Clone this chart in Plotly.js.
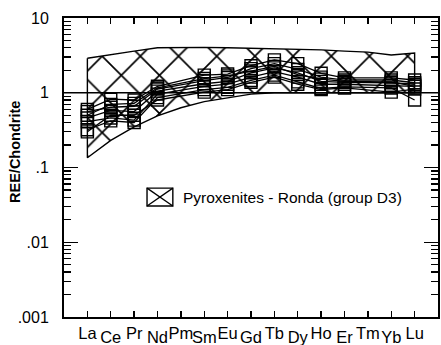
<!DOCTYPE html>
<html><head><meta charset="utf-8">
<script src="https://cdn.plot.ly/plotly-3.0.1.min.js"></script>
<style>html,body{margin:0;padding:0;background:#fff}#chart{width:441px;height:345px}</style>
</head><body><div id="chart"></div>
<script>
const elements = ['La','Ce','Pr','Nd','Pm','Sm','Eu','Gd','Tb','Dy','Ho','Er','Tm','Yb','Lu'];
const envelopeUpper = [2.9, 3.2, 3.6, 4.0, 4.05, 4.05, 4.0, 3.95, 3.9, 3.85, 3.75, 3.6, 3.5, 3.2, 3.4];
const envelopeLower = [0.135, 0.23, 0.35, 0.49, 0.63, 0.76, 0.86, 0.96, 1.0, 1.0, 1.0, 1.0, 1.0, 1.0, 1.0];
const sample1 = [0.60, 0.82, 0.80, 1.22, null, 1.72, 1.78, 2.30, 2.75, 2.45, 1.82, 1.58, null, 1.58, 1.48];
const sample2 = [0.56, 0.64, 0.66, 1.12, null, 1.45, 1.60, 2.10, 2.45, 2.05, 1.62, 1.48, null, 1.48, 1.36];
const sample3 = [0.46, 0.58, 0.56, 1.05, null, 1.32, 1.42, 1.85, 2.15, 1.85, 1.42, 1.38, null, 1.36, 1.30];
const sample4 = [0.41, 0.46, 0.43, 0.96, null, 1.22, 1.30, 1.62, 1.92, 1.62, 1.30, 1.30, null, 1.26, 1.22];
const sample5 = [0.32, 0.42, 0.40, 0.86, null, 1.10, 1.18, 1.46, 1.72, 1.40, 1.14, 1.20, null, 1.16, 0.80];
const sample6 = [0.30, 0.50, 0.50, 0.80, null, 1.02, 1.10, 1.38, 1.62, 1.30, 1.10, 1.16, null, 1.02, 1.12];
const sample7 = [0.50, 0.70, 0.72, 1.16, null, 1.55, 1.68, 1.95, 2.25, 1.75, 1.52, 1.42, null, 1.40, 1.22];
const samples = [sample1, sample2, sample3, sample4, sample5, sample6, sample7];
const yTickVals = [0.001, 0.01, 0.1, 1, 10];
const yTickText = ['.001', '.01', '.1', '1', '10'];
const yTitle = 'REE/Chondrite';
const legendLabel = 'Pyroxenites - Ronda (group D3)';
const referenceLevel = 1;

const xs = elements.map((e, i) => i);
const oddX = xs.filter(i => i % 2 === 1);

const traces = [];
traces.push({
  x: xs.concat(xs.slice().reverse(), [xs[0]]),
  y: envelopeUpper.concat(envelopeLower.slice().reverse(), [envelopeUpper[0]]),
  fill: 'toself',
  fillcolor: 'rgba(0,0,0,0)',
  fillpattern: {shape: 'x', size: 27, solidity: 0.12, fgcolor: '#000', bgcolor: 'rgba(0,0,0,0)'},
  mode: 'lines', line: {color: '#000', width: 1.4},
  hoverinfo: 'skip', showlegend: false
});
samples.forEach(s => traces.push({
  x: xs, y: s, mode: 'lines+markers', connectgaps: true,
  line: {color: '#000', width: 1.3},
  marker: {symbol: 'square-open', size: 12, color: '#000', line: {width: 1.4, color: '#000'}},
  showlegend: false, hoverinfo: 'skip'
}));
// carrier for the second (staggered) label axis
traces.push({x: [xs[0]], y: [referenceLevel], xaxis: 'x2', mode: 'markers', marker: {opacity: 0}, showlegend: false, hoverinfo: 'skip'});

const minorVals = [];
yTickVals.slice(0, -1).forEach(d => { for (let k = 2; k <= 9; k++) minorVals.push(k * d); });

const font = 'Liberation Sans, Arial, sans-serif';
const layout = {
  width: 441, height: 345,
  margin: {l: 64, r: 3, t: 18, b: 28, pad: 0},
  paper_bgcolor: '#fff', plot_bgcolor: '#fff',
  font: {family: font, color: '#000'},
  showlegend: false,
  xaxis: {
    range: [-1, 15], tickmode: 'array', tickvals: xs,
    ticktext: elements.map((e, i) => i % 2 === 0 ? e : ''),
    ticks: 'inside', ticklen: 6, tickwidth: 1.3, tickcolor: '#000',
    showline: true, linewidth: 2, linecolor: '#000', mirror: 'ticks',
    showgrid: false, zeroline: false, tickfont: {size: 16.5, family: font},
    ticklabelstandoff: 0
  },
  xaxis2: {
    overlaying: 'x', anchor: 'y', side: 'bottom', range: [-1, 15],
    tickmode: 'array', tickvals: oddX, ticktext: oddX.map(i => elements[i]),
    ticks: '', showline: false, showgrid: false, zeroline: false,
    tickfont: {size: 16.5, family: font}, ticklabelstandoff: 8
  },
  yaxis: {
    type: 'log', range: [-3, 1], tickmode: 'array', tickvals: yTickVals, ticktext: yTickText,
    ticks: 'inside', ticklen: 14, tickwidth: 1.3, tickcolor: '#000',
    showline: true, linewidth: 2, linecolor: '#000', mirror: 'ticks',
    showgrid: false, zeroline: false, tickfont: {size: 16, family: font},
    ticklabelstandoff: 10,
    minor: {tickmode: 'array', tickvals: minorVals, ticks: 'inside', ticklen: 7, tickwidth: 1.3, tickcolor: '#000', showgrid: false}
  },
  shapes: [
    {type: 'line', xref: 'paper', yref: 'y', x0: 0, x1: 1, y0: referenceLevel, y1: referenceLevel, line: {color: '#000', width: 1.4}, layer: 'above'},
    {type: 'rect', xref: 'paper', yref: 'paper', x0: 0.222, x1: 0.291, y0: 0.371, y1: 0.431, line: {color: '#000', width: 1.4}},
    {type: 'line', xref: 'paper', yref: 'paper', x0: 0.222, x1: 0.291, y0: 0.371, y1: 0.431, line: {color: '#000', width: 1.3}},
    {type: 'line', xref: 'paper', yref: 'paper', x0: 0.222, x1: 0.291, y0: 0.431, y1: 0.371, line: {color: '#000', width: 1.3}}
  ],
  annotations: [
    {xref: 'paper', yref: 'paper', x: 0.313, y: 0.401, xanchor: 'left', yanchor: 'middle', text: legendLabel, showarrow: false, font: {size: 15.5, family: font, color: '#000'}},
    {xref: 'paper', yref: 'paper', x: -0.131, y: 0.552, xanchor: 'center', yanchor: 'middle', textangle: -90, text: '<b>' + yTitle + '</b>', showarrow: false, font: {size: 14.5, family: font, color: '#000'}}
  ]
};
Plotly.newPlot('chart', traces, layout, {displayModeBar: false, staticPlot: true});
</script></body></html>
